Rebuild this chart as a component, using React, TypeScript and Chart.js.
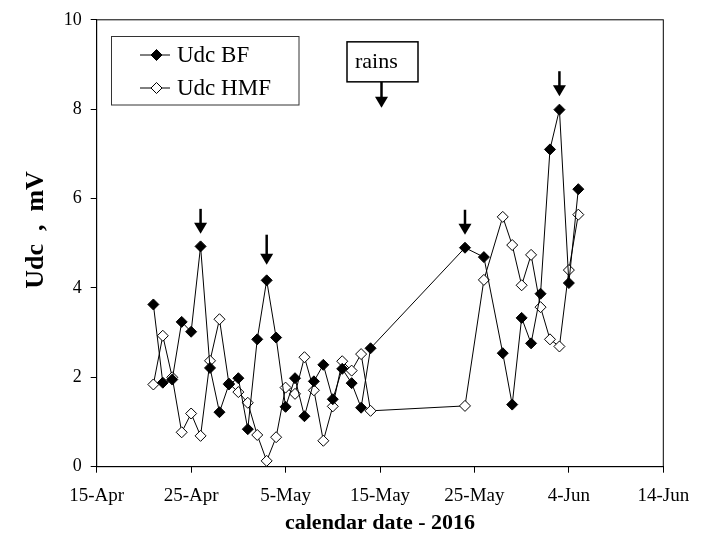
import React, { useEffect, useRef } from "react";
import { Chart, registerables } from "chart.js";

Chart.register(...registerables);

// ---- data ----
const startDate = "2016-04-15";
const tickLabels = ["15-Apr", "25-Apr", "5-May", "15-May", "25-May", "4-Jun", "14-Jun"];
const yTickValues = [0, 2, 4, 6, 8, 10];

const dates = [
  "2016-04-21", "2016-04-22", "2016-04-23", "2016-04-24", "2016-04-25", "2016-04-26",
  "2016-04-27", "2016-04-28", "2016-04-29", "2016-04-30", "2016-05-01", "2016-05-02",
  "2016-05-03", "2016-05-04", "2016-05-05", "2016-05-06", "2016-05-07", "2016-05-08",
  "2016-05-09", "2016-05-10", "2016-05-11", "2016-05-12", "2016-05-13", "2016-05-14",
  "2016-05-24", "2016-05-26", "2016-05-28", "2016-05-29", "2016-05-30", "2016-05-31",
  "2016-06-01", "2016-06-02", "2016-06-03", "2016-06-04", "2016-06-05",
];

const udcBF = [
  3.63, 1.88, 1.95, 3.24, 3.02, 4.93, 2.21, 1.22, 1.84, 1.98, 0.84, 2.85,
  4.17, 2.89, 1.34, 1.98, 1.13, 1.91, 2.28, 1.51, 2.19, 1.87, 1.32, 2.65,
  4.9, 4.69, 2.54, 1.39, 3.33, 2.76, 3.87, 7.1, 7.99, 4.11, 6.21,
];

const udcHMF = [
  1.84, 2.93, 2.0, 0.77, 1.19, 0.69, 2.37, 3.3, 1.86, 1.67, 1.43, 0.71,
  0.13, 0.66, 1.77, 1.63, 2.45, 1.71, 0.58, 1.35, 2.36, 2.15, 2.52, 1.25,
  1.36, 4.18, 5.59, 4.96, 4.06, 4.74, 3.57, 2.85, 2.69, 4.4, 5.64,
];

const seriesLabels = ["Udc BF", "Udc HMF"];

// annotation arrows (date, value at arrow tip)
const arrowDates = ["2016-04-26", "2016-05-03", "2016-05-24", "2016-06-03"];
const arrowTips = [5.21, 4.52, 5.19, 8.29];
const rainsDate = "2016-05-15";
const rainsTip = 8.03;
const rainsText = "rains";

const xTitle = "calendar date - 2016";
const yTitle = "Udc  ,  mV";

// ---- helpers ----
const DAY = 86400000;
const dayOffset = (d: string) =>
  Math.round((Date.parse(d + "T00:00:00Z") - Date.parse(startDate + "T00:00:00Z")) / DAY);

const SERIF = "'Liberation Serif', 'DejaVu Serif', serif";

function diamond(ctx: CanvasRenderingContext2D, cx: number, cy: number, r: number, filled: boolean) {
  ctx.beginPath();
  ctx.moveTo(cx, cy - r);
  ctx.lineTo(cx + r, cy);
  ctx.lineTo(cx, cy + r);
  ctx.lineTo(cx - r, cy);
  ctx.closePath();
  ctx.fillStyle = filled ? "#000" : "#fff";
  ctx.fill();
  ctx.lineWidth = 1;
  ctx.strokeStyle = "#000";
  ctx.stroke();
}

function arrow(ctx: CanvasRenderingContext2D, cx: number, tipY: number, len: number) {
  ctx.strokeStyle = "#000";
  ctx.fillStyle = "#000";
  ctx.lineWidth = 2.5;
  ctx.beginPath();
  ctx.moveTo(cx, tipY - len);
  ctx.lineTo(cx, tipY - 8);
  ctx.stroke();
  ctx.beginPath();
  ctx.moveTo(cx - 6.5, tipY - 11);
  ctx.lineTo(cx + 6.5, tipY - 11);
  ctx.lineTo(cx, tipY);
  ctx.closePath();
  ctx.fill();
}

const overlay = {
  id: "overlay",
  afterDatasetsDraw(chart: any) {
    const { ctx, chartArea: a, scales } = chart;
    const xs = scales.x;
    const ys = scales.y;
    ctx.save();

    // frame
    ctx.strokeStyle = "#000";
    ctx.lineWidth = 1;
    ctx.strokeRect(a.left, a.top, a.right - a.left, a.bottom - a.top);

    // arrows
    arrowDates.forEach((d, i) => {
      const px = xs.getPixelForValue(dayOffset(d));
      const py = ys.getPixelForValue(arrowTips[i]);
      arrow(ctx, px, py, i === 1 ? 30 : 25);
    });

    // rains box + arrow
    const rx = xs.getPixelForValue(dayOffset(rainsDate)) + 1.5;
    const ry = ys.getPixelForValue(rainsTip);
    arrow(ctx, rx, ry, 26);
    ctx.lineWidth = 1.5;
    ctx.strokeStyle = "#000";
    ctx.fillStyle = "#fff";
    const bw = 71, bh = 40;
    const bx = rx - 34.5, by = ry - 26 - bh;
    ctx.fillRect(bx, by, bw, bh);
    ctx.strokeRect(bx, by, bw, bh);
    ctx.fillStyle = "#000";
    ctx.font = `22px ${SERIF}`;
    ctx.textAlign = "left";
    ctx.textBaseline = "middle";
    ctx.fillText(rainsText, bx + 8, by + bh / 2);

    // legend
    const lx = 111.5, ly = 36.5, lw = 187.5, lh = 68.5;
    ctx.fillStyle = "#fff";
    ctx.fillRect(lx, ly, lw, lh);
    ctx.strokeStyle = "#333";
    ctx.lineWidth = 1;
    ctx.strokeRect(lx, ly, lw, lh);
    chart.data.datasets.forEach((ds: any, i: number) => {
      const rowY = 55 + i * 33;
      ctx.strokeStyle = "#000";
      ctx.lineWidth = 1;
      ctx.beginPath();
      ctx.moveTo(140, rowY);
      ctx.lineTo(170, rowY);
      ctx.stroke();
      diamond(ctx, 156.5, rowY, 5.5, i === 0);
      ctx.fillStyle = "#000";
      ctx.font = `23px ${SERIF}`;
      ctx.textAlign = "left";
      ctx.textBaseline = "middle";
      ctx.fillText(ds.label, 177, rowY + 1);
    });

    // axis titles
    ctx.fillStyle = "#000";
    ctx.font = `bold 22px ${SERIF}`;
    ctx.textAlign = "center";
    ctx.textBaseline = "middle";
    ctx.fillText(xTitle, (a.left + a.right) / 2, 523);

    ctx.save();
    ctx.translate(36, 230);
    ctx.rotate(-Math.PI / 2);
    ctx.font = `bold 26px ${SERIF}`;
    ctx.fillText(yTitle, 0, 0);
    ctx.restore();

    ctx.restore();
  },
};

export default function App() {
  const ref = useRef<HTMLCanvasElement>(null);

  useEffect(() => {
    if (!ref.current) return;
    const chart = new Chart(ref.current, {
      type: "line",
      data: {
        datasets: [
          {
            label: seriesLabels[0],
            data: dates.map((d, i) => ({ x: dayOffset(d), y: udcBF[i] })),
            borderColor: "#000",
            borderWidth: 1,
            backgroundColor: "#000",
            pointStyle: "rectRot",
            pointRadius: 5.5,
            pointBorderWidth: 1,
            pointBackgroundColor: "#000",
            pointBorderColor: "#000",
            tension: 0,
          },
          {
            label: seriesLabels[1],
            data: dates.map((d, i) => ({ x: dayOffset(d), y: udcHMF[i] })),
            borderColor: "#000",
            borderWidth: 1,
            backgroundColor: "#fff",
            pointStyle: "rectRot",
            pointRadius: 5.5,
            pointBorderWidth: 1,
            pointBackgroundColor: "#fff",
            pointBorderColor: "#000",
            tension: 0,
          },
        ],
      },
      options: {
        animation: false,
        responsive: false,
        devicePixelRatio: 1,
        layout: { padding: { left: 0, top: 15.7, right: 49.7, bottom: 0 } },
        plugins: {
          legend: { display: false },
          tooltip: { enabled: false },
          title: { display: false },
        },
        scales: {
          x: {
            type: "linear",
            min: 0,
            max: 60,
            ticks: {
              stepSize: 10,
              autoSkip: false,
              maxRotation: 0,
              color: "#000",
              padding: 12,
              font: { family: SERIF, size: 19 },
              callback: (v: any) => tickLabels[Math.round(Number(v) / 10)] ?? "",
            },
            grid: { drawOnChartArea: false, drawTicks: true, tickLength: 6, color: "#000" },
            border: { color: "#000", width: 1 },
            afterFit: (s: any) => {
              s.height = 70.3;
            },
          },
          y: {
            min: yTickValues[0],
            max: yTickValues[yTickValues.length - 1],
            ticks: {
              stepSize: 2,
              color: "#000",
              padding: 9,
              font: { family: SERIF, size: 18 },
            },
            grid: { drawOnChartArea: false, drawTicks: true, tickLength: 6, color: "#000" },
            border: { color: "#000", width: 1 },
            afterFit: (s: any) => {
              s.width = 96.7;
            },
          },
        },
      },
      plugins: [overlay],
    });
    return () => chart.destroy();
  }, []);

  return (
    <div style={{ position: "fixed", left: 0, top: 0, width: 713, height: 537, background: "#fff" }}>
      <canvas ref={ref} width={713} height={537} style={{ display: "block", width: 713, height: 537 }} />
    </div>
  );
}
